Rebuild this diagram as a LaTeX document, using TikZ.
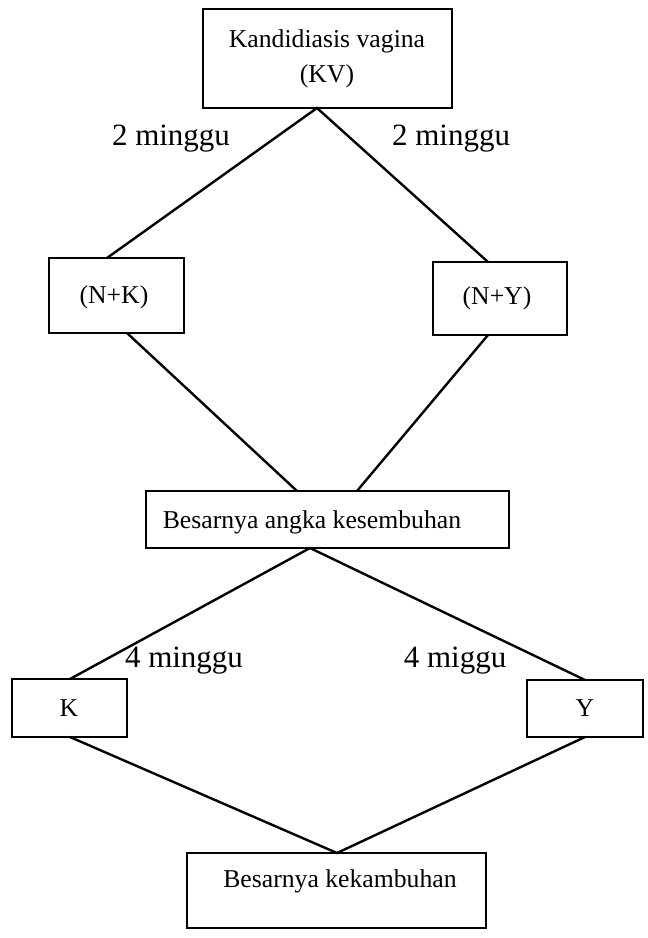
\documentclass[tikz,border=0pt]{standalone}
\usepackage{fontspec}
\setmainfont{Liberation Serif}
\begin{document}
\begin{tikzpicture}[x=1pt,y=-1pt,
  box/.style={draw,line width=1.8pt},
  link/.style={line width=2.4pt},
  boxtext/.style={anchor=base,inner sep=0pt,font=\fontsize{25.7}{30}\selectfont},
  lbl/.style={anchor=base,inner sep=0pt,font=\fontsize{31}{36}\selectfont}]
\useasboundingbox (0,0) rectangle (648,938);
% boxes
\draw[box] (203,9) rectangle (452,108);
\draw[box] (49,258) rectangle (184,333);
\draw[box] (433,262) rectangle (567,335);
\draw[box] (146,491) rectangle (509,548);
\draw[box] (12,679) rectangle (127,737);
\draw[box] (527,680) rectangle (643,737);
\draw[box] (187,853) rectangle (486,928);
% texts
\node[boxtext] (kv1) at (327,47) {Kandidiasis vagina};
\node[boxtext] (kv2) at (327,82) {(KV)};
\node[boxtext] (nk) at (114,303) {(N+K)};
\node[boxtext] (ny) at (497,304) {(N+Y)};
\node[boxtext] (ak) at (312,528) {Besarnya angka kesembuhan};
\node[boxtext] (k) at (69,716) {K};
\node[boxtext] (y) at (585,716) {Y};
\node[boxtext] (kb) at (340,887) {Besarnya kekambuhan};
\node[lbl] (l1) at (171,145) {2 minggu};
\node[lbl] (l2) at (451,145) {2 minggu};
\node[lbl] (l3) at (184,667) {4 minggu};
\node[lbl] (l4) at (455,667) {4 miggu};
% attachment points
\coordinate (kvB) at (317,108);
\coordinate (nkT) at (107,258);
\coordinate (nkB) at (127,333);
\coordinate (nyT) at (488,262);
\coordinate (nyB) at (488,335);
\coordinate (akT1) at (297,491);
\coordinate (akT2) at (357,491);
\coordinate (akB) at (310,548);
\coordinate (kT) at (70,679);
\coordinate (kB) at (70,737);
\coordinate (yT) at (585,680);
\coordinate (yB) at (585,737);
\coordinate (kbT) at (337,853);
% connectors
\draw[link] (nkT) -- (kvB) -- (nyT);
\draw[link] (nkB) -- (akT1);
\draw[link] (nyB) -- (akT2);
\draw[link] (kT) -- (akB) -- (yT);
\draw[link] (kB) -- (kbT) -- (yB);
\end{tikzpicture}
\end{document}
